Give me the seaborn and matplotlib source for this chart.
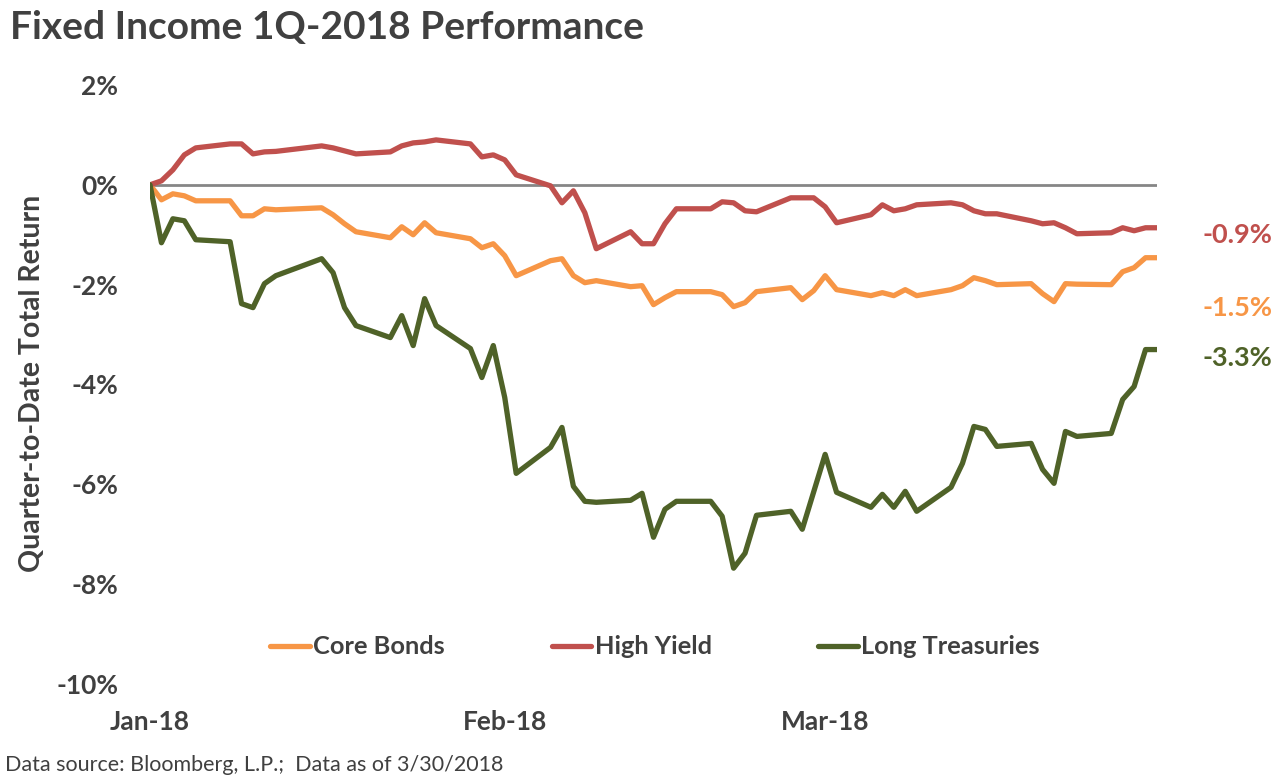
import pandas as pd
import matplotlib
matplotlib.use("Agg")
import matplotlib.pyplot as plt
import matplotlib.dates as mdates
from matplotlib.ticker import FuncFormatter
import seaborn as sns

# ---------------------------------------------------------
# Data (quarter-to-date total return, %)
# ---------------------------------------------------------
dates = [
    "2018-01-01", "2018-01-02", "2018-01-03", "2018-01-04", "2018-01-05",
    "2018-01-08", "2018-01-09", "2018-01-10", "2018-01-11", "2018-01-12",
    "2018-01-16", "2018-01-17", "2018-01-18", "2018-01-19",
    "2018-01-22", "2018-01-23", "2018-01-24", "2018-01-25", "2018-01-26",
    "2018-01-29", "2018-01-30", "2018-01-31",
    "2018-02-01", "2018-02-02",
    "2018-02-05", "2018-02-06", "2018-02-07", "2018-02-08", "2018-02-09",
    "2018-02-12", "2018-02-13", "2018-02-14", "2018-02-15", "2018-02-16",
    "2018-02-19", "2018-02-20", "2018-02-21", "2018-02-22", "2018-02-23",
    "2018-02-26", "2018-02-27", "2018-02-28",
    "2018-03-01", "2018-03-02",
    "2018-03-05", "2018-03-06", "2018-03-07", "2018-03-08", "2018-03-09",
    "2018-03-12", "2018-03-13", "2018-03-14", "2018-03-15", "2018-03-16",
    "2018-03-19", "2018-03-20", "2018-03-21", "2018-03-22", "2018-03-23",
    "2018-03-26", "2018-03-27", "2018-03-28", "2018-03-29", "2018-03-30",
]

core_bonds = [
    0.00, -0.30, -0.18, -0.22, -0.32, -0.32, -0.62, -0.62, -0.48, -0.50,
    -0.46, -0.60, -0.78, -0.94, -1.06, -0.84, -1.00, -0.76, -0.96,
    -1.08, -1.26, -1.18,
    -1.42, -1.82, -1.52, -1.48, -1.82, -1.96, -1.92, -2.04, -2.02, -2.40,
    -2.26, -2.14, -2.14, -2.20, -2.44, -2.36, -2.14, -2.06, -2.30, -2.12,
    -1.82, -2.10, -2.22, -2.16, -2.22, -2.10, -2.22, -2.10, -2.02, -1.86,
    -1.92, -2.00, -1.98, -2.18, -2.34, -1.98, -1.99, -2.00, -1.74, -1.66,
    -1.46, -1.46,
]

high_yield = [
    0.00, 0.08, 0.30, 0.60, 0.74, 0.82, 0.82, 0.62, 0.66, 0.67,
    0.78, 0.74, 0.68, 0.62, 0.66, 0.78, 0.84, 0.86, 0.90,
    0.82, 0.56, 0.60,
    0.50, 0.20, -0.02, -0.36, -0.12, -0.56, -1.28, -0.94, -1.18, -1.18,
    -0.78, -0.48, -0.48, -0.34, -0.36, -0.52, -0.54, -0.26, -0.26, -0.26,
    -0.44, -0.76, -0.60, -0.40, -0.52, -0.48, -0.40, -0.36, -0.40, -0.52,
    -0.58, -0.58, -0.72, -0.78, -0.76, -0.86, -0.98, -0.96, -0.86, -0.92,
    -0.86, -0.86,
]

long_treasuries = [
    0.00, -1.16, -0.68, -0.72, -1.10, -1.14, -2.38, -2.46, -1.98, -1.82,
    -1.48, -1.76, -2.46, -2.82, -3.06, -2.62, -3.22, -2.28, -2.82,
    -3.28, -3.86, -3.22,
    -4.26, -5.78, -5.26, -4.86, -6.04, -6.34, -6.36, -6.32, -6.18, -7.06,
    -6.50, -6.34, -6.34, -6.64, -7.68, -7.38, -6.62, -6.54, -6.90, -6.15,
    -5.40, -6.16, -6.46, -6.20, -6.46, -6.14, -6.54, -6.06, -5.58, -4.84,
    -4.90, -5.24, -5.18, -5.70, -5.98, -4.94, -5.04, -4.98, -4.30, -4.04,
    -3.30, -3.30,
]

series_names = ["Core Bonds", "High Yield", "Long Treasuries"]
series_colors = ["#F79646", "#C0504D", "#4F6228"]
end_labels = ["-1.5%", "-0.9%", "-3.3%"]

TEXT = "#404040"


def main():
    sns.set_theme(style="white")
    plt.rcParams["font.family"] = ["Lato", "DejaVu Sans"]

    frames = []
    for name, vals in zip(series_names, [core_bonds, high_yield, long_treasuries]):
        frames.append(pd.DataFrame({"date": pd.to_datetime(dates), "ret": vals, "series": name}))
    df = pd.concat(frames, ignore_index=True)

    fig = plt.figure(figsize=(12.78, 7.75), dpi=100)
    ax = fig.add_axes([150 / 1278, 1 - 684 / 775, (1157 - 150) / 1278, (684 - 85) / 775])

    ax.axhline(0, color="#868686", lw=2, zorder=1)
    sns.lineplot(data=df, x="date", y="ret", hue="series", hue_order=series_names,
                 palette=series_colors, lw=3.8, ax=ax, legend=False, zorder=3)

    ax.set_xlim(pd.Timestamp("2018-01-01"), pd.Timestamp("2018-03-30"))
    ax.set_ylim(-10, 2)
    ax.set_yticks(range(-10, 3, 2))
    ax.yaxis.set_major_formatter(FuncFormatter(lambda v, p: f"{v:.0f}%"))
    ax.set_xticks(pd.to_datetime(["2018-01-01", "2018-02-01", "2018-03-01"]))
    ax.xaxis.set_major_formatter(mdates.DateFormatter("%b-%y"))
    ax.tick_params(axis="y", length=0, pad=23, labelsize=19, labelcolor=TEXT)
    ax.tick_params(axis="x", length=0, pad=19, labelsize=19, labelcolor=TEXT)
    for lab in ax.get_xticklabels() + ax.get_yticklabels():
        lab.set_fontweight("bold")
    ax.set_xlabel("")
    ax.set_ylabel("")
    for s in ax.spines.values():
        s.set_visible(False)

    # end-of-period labels
    last_date = pd.Timestamp(dates[-1])
    offsets = [-36, -5, -6]
    for vals, color, text, dy in zip([core_bonds, high_yield, long_treasuries],
                                     series_colors, end_labels, offsets):
        ax.annotate(text, xy=(last_date, vals[-1]), xytext=(33, dy),
                    textcoords="offset points", ha="left", va="center",
                    color=color, fontsize=19.5, fontweight="bold", annotation_clip=False)

    # legend
    handles = [plt.Line2D([], [], color=c, lw=3.8) for c in series_colors]
    leg = fig.legend(handles, series_names, loc="center", bbox_to_anchor=(655 / 1278, 1 - 647 / 775),
                     ncol=3, frameon=False, handlelength=1.57, handletextpad=0.12,
                     columnspacing=4.2, prop={"size": 18.3, "weight": "bold"})
    for t in leg.get_texts():
        t.set_color(TEXT)

    fig.text(10 / 1278, 1 - 28 / 775, "Fixed Income 1Q-2018 Performance",
             ha="left", va="center", fontsize=28, fontweight="bold", color=TEXT)
    fig.text(32 / 1278, 1 - 383 / 775, "Quarter-to-Date Total Return",
             rotation=90, ha="center", va="center", fontsize=20.5, fontweight="bold", color=TEXT)
    fig.text(5 / 1278, 1 - 765 / 775, "Data source: Bloomberg, L.P.;  Data as of 3/30/2018",
             ha="left", va="center", fontsize=15.5, color=TEXT)

    fig.savefig("out.png", dpi=100)
    plt.close(fig)


if __name__ == "__main__":
    main()
